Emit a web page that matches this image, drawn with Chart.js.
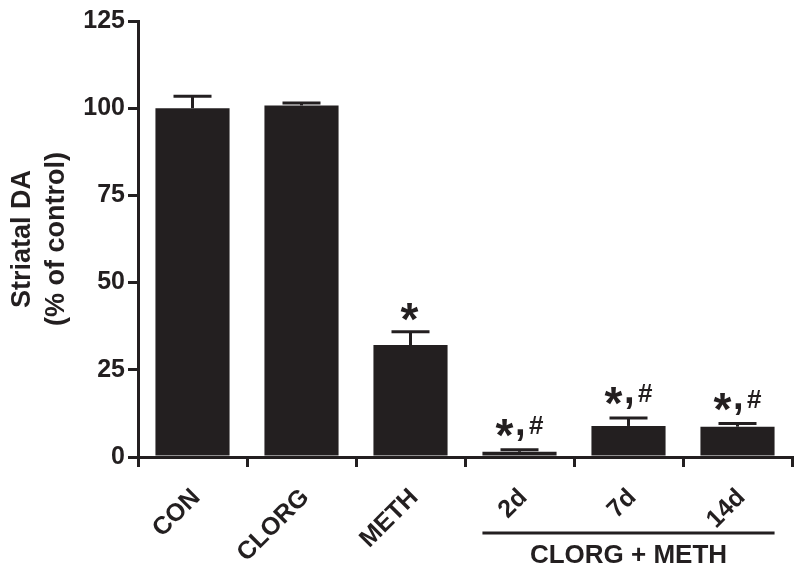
<!DOCTYPE html>
<html>
<head>
<meta charset="utf-8">
<script src="https://cdn.jsdelivr.net/npm/chart.js@4.4.1/dist/chart.umd.min.js"></script>
<style>
  html, body { margin: 0; padding: 0; background: #ffffff; }
  #wrap { width: 800px; height: 574px; position: relative; }
</style>
</head>
<body>
<div id="wrap"><canvas id="c" width="800" height="574"></canvas></div>
<script>
const categories = ['CON', 'CLORG', 'METH', '2d', '7d', '14d'];
const meanValues = [100.0, 100.8, 32.1, 1.5, 8.9, 8.7];
const semValues = [3.4, 0.7, 3.8, 0.6, 2.3, 0.9];
const significance = ['', '', '*', '*,#', '*,#', '*,#'];
const yTicks = [0, 25, 50, 75, 100, 125];
const groupLabel = 'CLORG + METH';
const groupCategories = ['2d', '7d', '14d'];
const yTitleLines = ['Striatal DA', '(% of control)'];

const INK = '#231f20';
const FONT = '"Liberation Sans", Arial, Helvetica, sans-serif';

function drawCentered(ctx, text, cx, cy, font) {
  ctx.font = font;
  const m = ctx.measureText(text);
  const w = m.actualBoundingBoxLeft + m.actualBoundingBoxRight;
  const h = m.actualBoundingBoxAscent + m.actualBoundingBoxDescent;
  const x = cx - w / 2 + m.actualBoundingBoxLeft;
  const y = cy - h / 2 + m.actualBoundingBoxAscent;
  ctx.fillText(text, x, y);
}

const decorPlugin = {
  id: 'decor',
  afterDatasetsDraw(chart) {
    const ctx = chart.ctx;
    const ys = chart.scales.y;
    const meta = chart.getDatasetMeta(0);
    ctx.save();
    ctx.strokeStyle = INK;
    ctx.fillStyle = INK;
    ctx.lineWidth = 3;
    ctx.lineCap = 'butt';
    ctx.textAlign = 'left';
    ctx.textBaseline = 'alphabetic';
    meta.data.forEach((bar, i) => {
      const x = bar.x;
      const yBar = ys.getPixelForValue(meanValues[i]);
      const yErr = ys.getPixelForValue(meanValues[i] + semValues[i]);
      ctx.beginPath();
      ctx.moveTo(x, yBar);
      ctx.lineTo(x, yErr);
      ctx.stroke();
      ctx.beginPath();
      ctx.moveTo(x - 19, yErr);
      ctx.lineTo(x + 19, yErr);
      ctx.stroke();
      const s = significance[i];
      if (s === '*') {
        drawCentered(ctx, '*', x - 1, yErr - 20, 'bold 46px ' + FONT);
      } else if (s === '*,#') {
        drawCentered(ctx, '*', x - 15, yErr - 22, 'bold 46px ' + FONT);
        drawCentered(ctx, ',', x + 1, yErr - 15, 'bold 38px ' + FONT);
        drawCentered(ctx, '#', x + 17, yErr - 25, 'bold 26px ' + FONT);
      }
    });
    ctx.restore();
  },
  afterDraw(chart) {
    const ctx = chart.ctx;
    const ys = chart.scales.y;
    const meta = chart.getDatasetMeta(0);
    ctx.save();
    ctx.fillStyle = INK;
    ctx.strokeStyle = INK;
    const cy = (ys.top + ys.bottom) / 2;
    ctx.font = 'bold 27px ' + FONT;
    ctx.textAlign = 'center';
    ctx.textBaseline = 'middle';
    [23, 57].forEach((xx, k) => {
      ctx.save();
      ctx.translate(xx, cy);
      ctx.rotate(-Math.PI / 2);
      ctx.fillText(yTitleLines[k], 0, 0);
      ctx.restore();
    });
    const idxs = groupCategories.map(c => categories.indexOf(c));
    const first = meta.data[idxs[0]];
    const last = meta.data[idxs[idxs.length - 1]];
    const x0 = first.x - first.width / 2;
    const x1 = last.x + last.width / 2;
    ctx.lineWidth = 3;
    ctx.beginPath();
    ctx.moveTo(x0, 533);
    ctx.lineTo(x1, 533);
    ctx.stroke();
    ctx.font = 'bold 26px ' + FONT;
    ctx.fillText(groupLabel, (x0 + x1) / 2, 556);
    ctx.restore();
  }
};

new Chart(document.getElementById('c'), {
  type: 'bar',
  data: {
    labels: categories,
    datasets: [{
      data: meanValues,
      backgroundColor: INK,
      borderWidth: 0,
      barPercentage: 0.68,
      categoryPercentage: 1.0
    }]
  },
  options: {
    responsive: false,
    animation: false,
    devicePixelRatio: 1,
    layout: { padding: { left: 0, right: 8, top: 21, bottom: 0 } },
    plugins: { legend: { display: false }, tooltip: { enabled: false }, title: { display: false } },
    scales: {
      x: {
        grid: { display: true, drawOnChartArea: false, drawTicks: true, tickLength: 10, lineWidth: 3, color: INK },
        border: { display: true, color: INK, width: 3 },
        ticks: {
          color: INK,
          font: { family: FONT, size: 25, weight: 'bold' },
          minRotation: 45,
          maxRotation: 45,
          autoSkip: false,
          padding: 16,
          labelOffset: 4
        },
        afterFit(s) { s.height = 574 - 457; }
      },
      y: {
        min: 0,
        max: 125,
        afterBuildTicks(s) { s.ticks = yTicks.map(v => ({ value: v })); },
        grid: { display: true, drawOnChartArea: false, drawTicks: true, tickLength: 10, lineWidth: 3, color: INK },
        border: { display: true, color: INK, width: 3 },
        ticks: {
          color: INK,
          font: { family: FONT, size: 25, weight: 'bold' },
          padding: 3
        },
        afterFit(s) { s.width = 138; }
      }
    }
  },
  plugins: [decorPlugin]
});
</script>
</body>
</html>
